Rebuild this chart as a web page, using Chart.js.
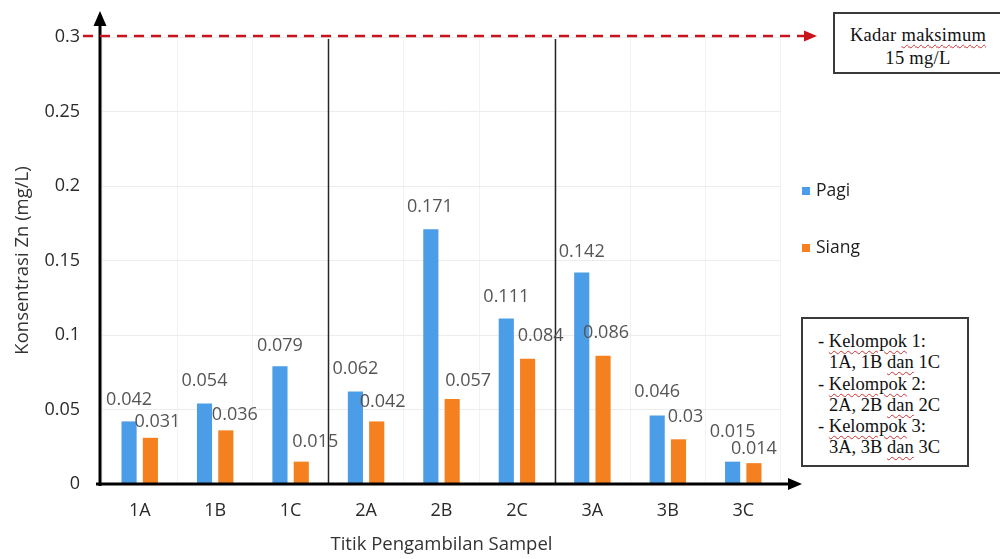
<!DOCTYPE html>
<html>
<head>
<meta charset="utf-8">
<script src="https://cdn.jsdelivr.net/npm/chart.js@4.4.0/dist/chart.umd.min.js"></script>
<style>
  body { margin: 0; background: #fff; }
  #wrap { position: relative; width: 1000px; height: 559px; }
  .note {
    position: absolute;
    box-sizing: border-box;
    border: 2px solid #3a3a3a;
    background: #fff;
    font-family: "Liberation Serif", "DejaVu Serif", serif;
    font-size: 18.5px;
    color: #111;
  }
  .note .spell {
    text-decoration: underline wavy #d03030;
    text-decoration-thickness: 1px;
    text-underline-offset: 3px;
  }
  #maxNote { left: 833px; top: 12px; width: 170px; height: 62px; text-align: center; line-height: 23px; padding-top: 10px; letter-spacing: 0.3px; }
  #groupNote { left: 801px; top: 317px; width: 168px; height: 150px; line-height: 21.3px; padding: 12px 0 0 15px; }
  #groupNote .ind { padding-left: 11px; }
</style>
</head>
<body>
<div id="wrap">
  <canvas id="my-chart"></canvas>
  <div class="note" id="maxNote">Kadar <span class="spell">maksimum</span><br>15 mg/L</div>
  <div class="note" id="groupNote">
    <div>- <span class="spell">Kelompok</span> 1:</div>
    <div class="ind">1A, 1B <span class="spell">dan</span> 1C</div>
    <div>- <span class="spell">Kelompok</span> 2:</div>
    <div class="ind">2A, 2B <span class="spell">dan</span> 2C</div>
    <div>- <span class="spell">Kelompok</span> 3:</div>
    <div class="ind">3A, 3B <span class="spell">dan</span> 3C</div>
  </div>
</div>
<script>
const samplePoints = ['1A', '1B', '1C', '2A', '2B', '2C', '3A', '3B', '3C'];
const pagi = [0.042, 0.054, 0.079, 0.062, 0.171, 0.111, 0.142, 0.046, 0.015];
const siang = [0.031, 0.036, 0.015, 0.042, 0.057, 0.084, 0.086, 0.03, 0.014];
const seriesNames = ['Pagi', 'Siang'];
const seriesColors = ['#4a9de6', '#f5801f'];
const maxLimit = 0.3;     // kadar maksimum line
const groupBreaks = [2, 5]; // last index of groups 1 and 2

// how far each value label sits from its bar (dx right, dy above the bar top)
const labelDx = [
    [0, 0, 0, 0, -1, 0, 0, 0, 0],
    [7, 9, 14, 6, 16, 13, 3, 7, 0]
];
const labelDy = [
    [22, 23, 20, 23, 22, 22, 21, 24, 30],
    [16, 15, 20, 20, 18, 23, 23, 22, 14]
];

const font = 'Open Sans';

// arrows, group separators, value labels and legend
const decor = {
    id: 'decor',
    afterDatasetsDraw(chart) {
        const ctx = chart.ctx;
        const x = chart.scales.x, y = chart.scales.y;
        const area = chart.chartArea;
        const base = y.getPixelForValue(0);
        ctx.save();

        // separators between groups
        ctx.strokeStyle = '#262626';
        ctx.lineWidth = 1.5;
        groupBreaks.forEach(i => {
            const px = Math.round((x.getPixelForValue(i) + x.getPixelForValue(i + 1)) / 2) + 0.5;
            ctx.beginPath();
            ctx.moveTo(px, area.top + 2);
            ctx.lineTo(px, base);
            ctx.stroke();
        });

        // y axis with arrow
        ctx.strokeStyle = '#000';
        ctx.fillStyle = '#000';
        ctx.lineWidth = 3;
        ctx.beginPath();
        ctx.moveTo(100, base + 2);
        ctx.lineTo(100, 24);
        ctx.stroke();
        ctx.beginPath();
        ctx.moveTo(100, 11);
        ctx.lineTo(93.5, 26);
        ctx.lineTo(106.5, 26);
        ctx.closePath();
        ctx.fill();

        // x axis with arrow
        ctx.beginPath();
        ctx.moveTo(96, base);
        ctx.lineTo(792, base);
        ctx.stroke();
        ctx.beginPath();
        ctx.moveTo(802, base);
        ctx.lineTo(788, base - 6);
        ctx.lineTo(788, base + 6);
        ctx.closePath();
        ctx.fill();

        // dashed limit line
        const ly = y.getPixelForValue(maxLimit) - 1;
        ctx.strokeStyle = '#c8141c';
        ctx.fillStyle = '#c8141c';
        ctx.lineWidth = 2.5;
        ctx.setLineDash([10, 7]);
        ctx.beginPath();
        ctx.moveTo(83, ly);
        ctx.lineTo(806, ly);
        ctx.stroke();
        ctx.setLineDash([]);
        ctx.beginPath();
        ctx.moveTo(817, ly);
        ctx.lineTo(804, ly - 5.5);
        ctx.lineTo(804, ly + 5.5);
        ctx.closePath();
        ctx.fill();

        // value labels
        ctx.font = '18px "' + font + '"';
        ctx.fillStyle = '#555';
        ctx.textAlign = 'center';
        ctx.textBaseline = 'middle';
        chart.data.datasets.forEach((ds, i) => {
            chart.getDatasetMeta(i).data.forEach((bar, j) => {
                ctx.fillText(String(ds.data[j]), bar.x + labelDx[i][j], bar.y - labelDy[i][j]);
            });
        });

        // legend
        ctx.textAlign = 'left';
        ctx.font = '17.5px "' + font + '"';
        chart.data.datasets.forEach((ds, i) => {
            const cy = 191 + i * 57;
            ctx.fillStyle = ds.backgroundColor;
            ctx.fillRect(802, cy - 4, 8, 8);
            ctx.fillStyle = '#1e1e1e';
            ctx.fillText(ds.label, 816, cy);
        });

        ctx.restore();
    }
};

const ctx = document.getElementById('my-chart').getContext('2d');
const chart = new Chart(ctx, {
    type: 'bar',
    data: {
        labels: samplePoints,
        datasets: [
            {
                label: seriesNames[0],
                backgroundColor: seriesColors[0],
                data: pagi
            },
            {
                label: seriesNames[1],
                backgroundColor: seriesColors[1],
                data: siang
            }
        ]
    },
    options: {
        responsive: true,
        maintainAspectRatio: false,
        animation: false,
        categoryPercentage: 0.565,
        barPercentage: 0.71,
        layout: { padding: { top: 37, right: 219, left: 0, bottom: 0 } },
        plugins: {
            legend: { display: false },
            tooltip: { enabled: false }
        },
        scales: {
            x: {
                afterFit: s => { s.height = 75; },
                grid: { color: '#f2f2f2', drawTicks: false },
                border: { display: false },
                ticks: { padding: 16, color: '#2a2a2a', font: { family: font, size: 18 } },
                title: {
                    display: true,
                    text: 'Titik Pengambilan Sampel',
                    color: '#333',
                    font: { family: font, size: 18.5 },
                    padding: { top: 0, bottom: 3 }
                }
            },
            y: {
                min: 0,
                max: maxLimit,
                afterFit: s => { s.width = 102; },
                grid: { color: '#ececec', drawTicks: false },
                border: { display: false },
                ticks: {
                    stepSize: 0.05,
                    padding: 22,
                    color: '#2a2a2a',
                    font: { family: font, size: 18 },
                    callback: v => String(+v.toFixed(2))
                },
                title: {
                    display: true,
                    text: 'Konsentrasi Zn (mg/L)',
                    color: '#333',
                    font: { family: font, size: 18.5 },
                    padding: { top: 12, bottom: 0 }
                }
            }
        }
    },
    plugins: [decor]
}); // bar chart with group annotations
</script>
</body>
</html>
